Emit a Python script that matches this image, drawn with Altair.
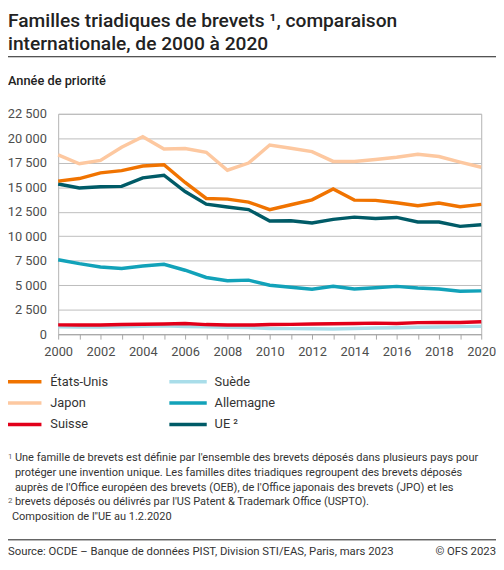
import altair as alt
import pandas as pd

# Année de priorité
years = list(range(2000, 2021))

etats_unis = [15630, 15890, 16470, 16700, 17170, 17300, 15490, 13860, 13790, 13490, 12720,
              13220, 13720, 14830, 13690, 13660, 13420, 13120, 13390, 13020, 13250]
japon = [18300, 17400, 17740, 19080, 20150, 18900, 18950, 18570, 16740, 17470, 19310,
         18980, 18640, 17640, 17640, 17840, 18070, 18370, 18140, 17570, 17040]
suisse = [950, 940, 940, 980, 1010, 1040, 1100, 980, 940, 930, 980,
          1000, 1050, 1060, 1100, 1130, 1100, 1180, 1200, 1200, 1280]
suede = [750, 720, 730, 760, 820, 870, 790, 760, 700, 670, 580,
         570, 560, 540, 580, 630, 660, 700, 740, 770, 800]
allemagne = [7600, 7200, 6860, 6700, 6960, 7130, 6530, 5790, 5450, 5520, 5000,
             4790, 4590, 4890, 4620, 4750, 4880, 4720, 4620, 4390, 4420]
ue = [15330, 14930, 15060, 15090, 15960, 16230, 14560, 13280, 12980, 12720, 11550,
      11580, 11350, 11720, 11950, 11820, 11920, 11450, 11450, 11010, 11180]

# legend order: first column, then second column
series_names = ['États-Unis', 'Japon', 'Suisse', 'Suède', 'Allemagne', 'UE ²']
series_colors = ['#f07300', '#fdc8a0', '#e2001a', '#a9dde9', '#12a2b9', '#005b67']

title_lines = ['Familles triadiques de brevets ¹, comparaison',
               'internationale, de 2000 à 2020']
subtitle = 'Année de priorité'
footnotes = [
    "Une famille de brevets est définie par l'ensemble des brevets déposés dans plusieurs pays pour",
    "protéger une invention unique. Les familles dites triadiques regroupent des brevets déposés",
    "auprès de l'Office européen des brevets (OEB), de l'Office japonais des brevets (JPO) et les",
    "brevets déposés ou délivrés par l'US Patent & Trademark Office (USPTO).",
]
note_ue = "Composition de l''UE au 1.2.2020"
source = 'Source: OCDE – Banque de données PIST, Division STI/EAS, Paris, mars 2023'
copyright = '© OFS 2023'

# build long table, drawing order: light lines first, Suisse on top
draw_order = [('Suède', suede), ('Japon', japon), ('Allemagne', allemagne),
              ('UE ²', ue), ('États-Unis', etats_unis), ('Suisse', suisse)]
rows = []
for name, values in draw_order:
    for y, v in zip(years, values):
        rows.append({'annee': y, 'valeur': v, 'pays': name})
df = pd.DataFrame(rows)

FONT = 'Roboto'
color_scale = alt.Scale(domain=series_names, range=series_colors)

lines = alt.Chart(df).mark_line(strokeWidth=3.5).encode(
    x=alt.X('annee:Q', title=None,
            scale=alt.Scale(domain=[2000, 2020], nice=False, zero=False),
            axis=alt.Axis(values=years, format='d',
                          labelExpr="datum.value % 2 == 0 ? '' + datum.value : ''",
                          labelOverlap=False, labelFlush=False,
                          grid=False, tickSize=5, tickColor='#a6a6a6',
                          domainColor='#a6a6a6', labelPadding=7,
                          labelFontSize=13, labelColor='#4d4d4d', labelFont=FONT)),
    y=alt.Y('valeur:Q', title=None,
            scale=alt.Scale(domain=[0, 22500], nice=False),
            axis=alt.Axis(values=list(range(0, 22501, 2500)),
                          labelExpr="replace(format(datum.value, ','), ',', ' ')",
                          grid=True, gridColor='#bdbdbd', domain=False, ticks=False,
                          labelPadding=12, labelFontSize=13, labelColor='#4d4d4d',
                          labelFont=FONT)),
    color=alt.Color('pays:N', scale=color_scale, legend=None),
    detail='pays:N',
)


def text_layer(text, x, y, size=11, weight='normal', align='left', color='#333333',
               baseline='alphabetic'):
    return alt.Chart(pd.DataFrame({'t': [text]})).mark_text(
        align=align, baseline=baseline, fontSize=size, fontWeight=weight,
        font=FONT, color=color
    ).encode(x=alt.value(x), y=alt.value(y), text='t:N')


def hrule(y, x1=-51, x2=445, color='#1a1a1a', width=1):
    return alt.Chart(pd.DataFrame({'r': [0]})).mark_rule(color=color, strokeWidth=width).encode(
        x=alt.value(x1), x2=alt.value(x2), y=alt.value(y))


# legend: two columns of three entries
legend_layers = []
for i, (name, col) in enumerate(zip(series_names, series_colors)):
    c, r = divmod(i, 3)
    ly = 272.3 + r * 21.7
    lx = -51 if c == 0 else 113
    lx2 = -17 if c == 0 else 151
    tx = -8 if c == 0 else 159
    legend_layers.append(hrule(ly, lx, lx2, color=col, width=3.5))
    legend_layers.append(text_layer(name, tx, ly, size=13, baseline='middle'))

texts = [
    text_layer(title_lines[0], -51, -88.5, size=19.5, weight=500, color='#222222'),
    text_layer(title_lines[1], -51, -64.5, size=19.5, weight=500, color='#222222'),
    hrule(-58),
    text_layer(subtitle, -51, -29, size=13, weight=500, color='#222222'),
    text_layer('1', -51, 350.5, size=8, color='#666666'),
    text_layer('2', -51, 396, size=8, color='#666666'),
]
for i, line in enumerate(footnotes):
    texts.append(text_layer(line, -44, 352.5 + i * 15.2, size=11.2))
texts.append(text_layer(note_ue, -47, 352.5 + 4 * 15.2, size=11.2))
texts.append(hrule(433))
texts.append(text_layer(source, -51, 448.5, size=11.5))
texts.append(text_layer(copyright, 445, 448.5, size=11.5, align='right'))

chart = alt.layer(lines, *legend_layers, *texts).properties(
    width=430,
    height=224,
    autosize='none',
    padding={'left': 51, 'top': 103, 'right': 15, 'bottom': 227},
).configure_view(stroke='#b3b3b3')

chart.save("out.html", embed_options={"renderer": "svg", "actions": False})
